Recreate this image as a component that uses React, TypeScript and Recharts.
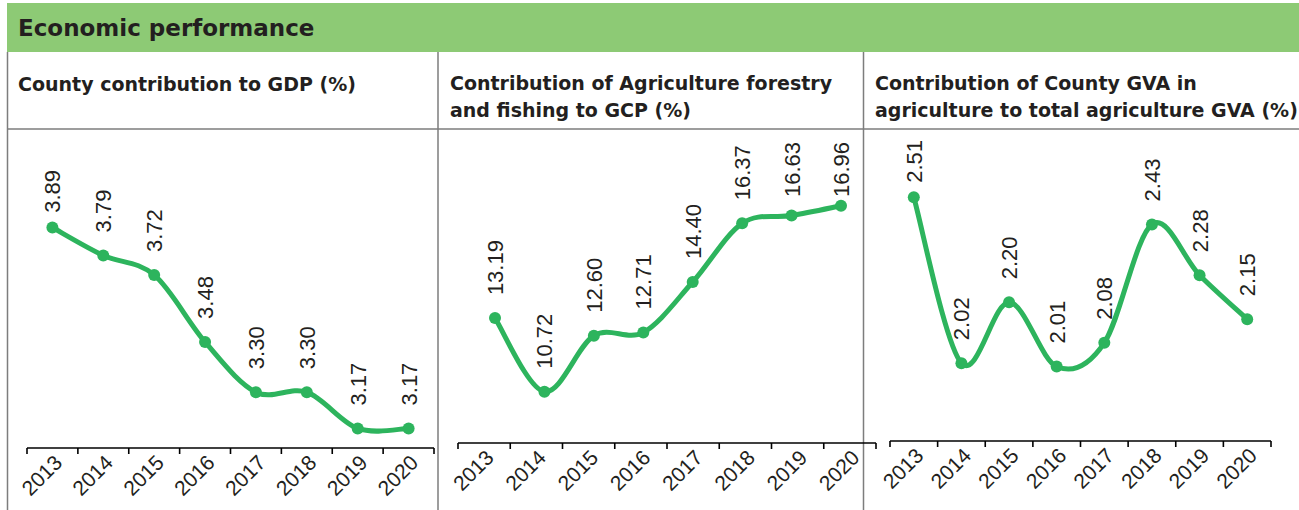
import React from 'react';
import { LineChart, Line, XAxis, YAxis } from 'recharts';

const years = ['2013', '2014', '2015', '2016', '2017', '2018', '2019', '2020'];
const gdpShare = [3.89, 3.79, 3.72, 3.48, 3.3, 3.3, 3.17, 3.17];
const agriGcpShare = [13.19, 10.72, 12.6, 12.71, 14.4, 16.37, 16.63, 16.96];
const agriGvaShare = [2.51, 2.02, 2.2, 2.01, 2.08, 2.43, 2.28, 2.15];

const GREEN = '#2db45d';
const INK = '#231f20';
const RULE = '#7d7d7d';
const LABEL_FONT = '"Liberation Sans", Arial, sans-serif';
const TITLE_FONT = '"DejaVu Sans", sans-serif';
const LABEL_SIZE = 22;
const CHART_TOP = 130;

// catmull-rom style smoothing, close to the spreadsheet "smoothed line"
const K = 1 / 6;
const smoothCurve = (context: any) => {
  let pts: [number, number][] = [];
  return {
    areaStart() {},
    areaEnd() {},
    lineStart() {
      pts = [];
    },
    lineEnd() {
      if (!pts.length) return;
      context.moveTo(pts[0][0], pts[0][1]);
      for (let i = 0; i < pts.length - 1; i++) {
        const p0 = pts[i - 1] || pts[i];
        const p1 = pts[i];
        const p2 = pts[i + 1];
        const p3 = pts[i + 2] || p2;
        context.bezierCurveTo(
          p1[0] + (p2[0] - p0[0]) * K,
          p1[1] + (p2[1] - p0[1]) * K,
          p2[0] - (p3[0] - p1[0]) * K,
          p2[1] - (p3[1] - p1[1]) * K,
          p2[0],
          p2[1]
        );
      }
    },
    point(x: number, y: number) {
      pts.push([x, y]);
    },
  };
};

const textLen = (s: string) =>
  s.split('').reduce((sum, ch) => sum + (ch === '.' ? 0.278 : 0.556), 0) * LABEL_SIZE;

function ValueLabel(props: any) {
  const { x, y, value, labelTop } = props;
  if (x == null || y == null) return null;
  const text = Number(value).toFixed(2);
  // keep the label inside the panel: it slides down when it would hit the top
  const bottom = Math.max(Number(y) - 23, labelTop + textLen(text));
  const bx = Number(x) + 8;
  return (
    <text
      x={bx}
      y={bottom}
      transform={`rotate(-90 ${bx} ${bottom})`}
      fontSize={LABEL_SIZE}
      fontFamily={LABEL_FONT}
      fill={INK}
      textAnchor="start"
    >
      {text}
    </text>
  );
}

function YearTick(props: any) {
  const { x, y, payload, index, step } = props;
  const left = x - step / 2;
  const right = x + step / 2;
  const ax = x + 11;
  const ay = y + 16;
  return (
    <g>
      <line x1={left} y1={y} x2={left} y2={y + 6} stroke="#000" strokeWidth={1.6} />
      {index === years.length - 1 && (
        <line x1={right} y1={y} x2={right} y2={y + 6} stroke="#000" strokeWidth={1.6} />
      )}
      <text
        x={ax}
        y={ay}
        transform={`rotate(-45 ${ax} ${ay})`}
        textAnchor="end"
        fontSize={21}
        fontFamily={LABEL_FONT}
        fill={INK}
      >
        {payload.value}
      </text>
    </g>
  );
}

type PanelProps = {
  values: number[];
  left: number;
  width: number;
  margin: { top: number; right: number; bottom: number; left: number };
  domain: [number, number];
  linePad: { left: number; right: number };
  labelTop: number;
};

const AXIS_H = 60;

function Panel({ values, left, width, margin, domain, linePad, labelTop }: PanelProps) {
  const data = years.map((year, i) => ({ year, value: values[i] }));
  const step = (width - margin.left - margin.right) / years.length;
  return (
    <div style={{ position: 'absolute', left, top: CHART_TOP }}>
      <LineChart width={width} height={380} data={data} margin={margin} style={{ overflow: 'visible' }}>
        <XAxis xAxisId="line" dataKey="year" hide height={0} padding={linePad} />
        <XAxis
          xAxisId="ticks"
          dataKey="year"
          height={AXIS_H}
          interval={0}
          padding={{ left: step / 2, right: step / 2 }}
          tickSize={0}
          tickMargin={0}
          tickLine={false}
          axisLine={{ stroke: '#000', strokeWidth: 1.6 }}
          tick={(p: any) => <YearTick {...p} step={step} />}
        />
        <YAxis hide domain={domain} allowDataOverflow />
        <Line
          xAxisId="line"
          dataKey="value"
          type={smoothCurve as any}
          stroke={GREEN}
          strokeWidth={5}
          dot={{ r: 6, fill: GREEN, stroke: GREEN, strokeWidth: 0 }}
          activeDot={false}
          isAnimationActive={false}
          label={(p: any) => <ValueLabel {...p} labelTop={labelTop - CHART_TOP} />}
        />
      </LineChart>
    </div>
  );
}

export default function App() {
  return (
    <div
      style={{
        position: 'absolute',
        left: 0,
        top: 0,
        width: 1299,
        height: 510,
        background: '#fff',
        overflow: 'hidden',
      }}
    >
      <svg width={1299} height={510} style={{ position: 'absolute', left: 0, top: 0 }}>
        <rect x={7} y={3} width={1292} height={49} fill="#8dca75" />
        <text x={18} y={36} fontFamily={TITLE_FONT} fontWeight="bold" fontSize={23} fill={INK}>
          Economic performance
        </text>
        <g fontFamily={TITLE_FONT} fontWeight="bold" fontSize={19} fill={INK}>
          <text x={18} y={91}>County contribution to GDP (%)</text>
          <text x={450} y={90}>Contribution of Agriculture forestry</text>
          <text x={450} y={117}>and fishing to GCP (%)</text>
          <text x={875} y={90}>Contribution of County GVA in</text>
          <text x={875} y={117}>agriculture to total agriculture GVA (%)</text>
        </g>
        <line x1={7} y1={129} x2={1299} y2={129} stroke={RULE} strokeWidth={1.5} />
        <line x1={7.5} y1={52} x2={7.5} y2={510} stroke={RULE} strokeWidth={1.5} />
        <line x1={438} y1={52} x2={438} y2={510} stroke={RULE} strokeWidth={1.5} />
        <line x1={863.5} y1={52} x2={863.5} y2={510} stroke={RULE} strokeWidth={1.5} />
      </svg>
      <Panel
        values={gdpShare}
        left={0}
        width={440}
        margin={{ top: 11, right: 6, bottom: 62 - AXIS_H, left: 27 }}
        domain={[3.1, 4.2]}
        linePad={{ left: 25.4, right: 25.4 }}
        labelTop={170}
      />
      <Panel
        values={agriGcpShare}
        left={440}
        width={440}
        margin={{ top: 6, right: 4, bottom: 67 - AXIS_H, left: 18 }}
        domain={[9, 19.3]}
        linePad={{ left: 37, right: 35 }}
        labelTop={142}
      />
      <Panel
        values={agriGvaShare}
        left={866}
        width={433}
        margin={{ top: 3, right: 28, bottom: 69 - AXIS_H, left: 24 }}
        domain={[1.79, 2.7]}
        linePad={{ left: 23.8, right: 23.8 }}
        labelTop={140}
      />
    </div>
  );
}
